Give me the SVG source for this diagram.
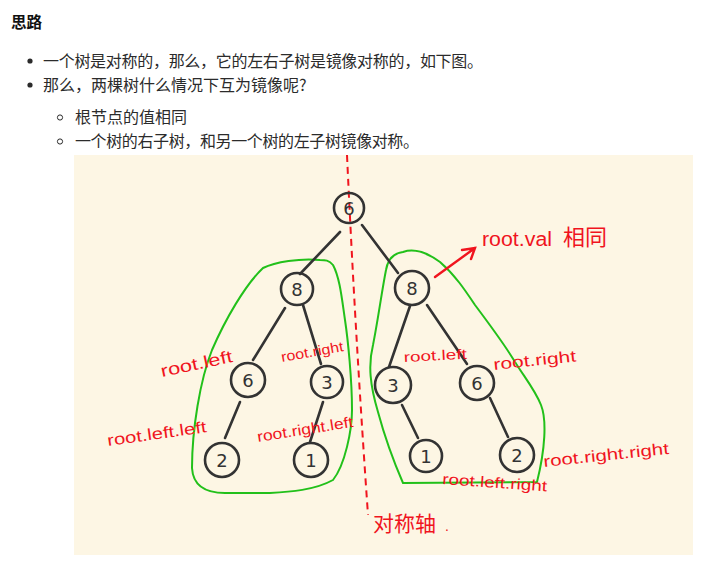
<svg xmlns="http://www.w3.org/2000/svg" width="713" height="577" viewBox="0 0 713 577">
<style>
.body{font-family:"Noto Sans CJK SC","Noto Sans",sans-serif;font-size:16px;fill:#2b2b2b}
.title{font-family:"Noto Sans CJK SC","Noto Sans",sans-serif;font-size:15.6px;font-weight:bold;fill:#111}
.ink{fill:none;stroke:#333;stroke-width:2.6;stroke-linecap:round;stroke-linejoin:round}
.num{font-family:"DejaVu Sans","Liberation Sans",sans-serif;font-size:18px;fill:#333;text-anchor:middle}
.hand{font-family:"Liberation Sans","Noto Sans CJK SC",sans-serif;fill:#f0141e}
.green{fill:none;stroke:#22c01a;stroke-width:2;stroke-linejoin:round}
.red{fill:none;stroke:#f0141e;stroke-width:2.4;stroke-linecap:round}
</style>
<rect width="713" height="577" fill="#ffffff"/>
<text class="title" x="11" y="28">思路</text>
<circle cx="30" cy="61" r="2.6" fill="#2b2b2b"/>
<text class="body" x="43" y="67" textLength="440" lengthAdjust="spacing">一个树是对称的，那么，它的左右子树是镜像对称的，如下图。</text>
<circle cx="30" cy="85" r="2.6" fill="#2b2b2b"/>
<text class="body" x="43" y="91">那么，两棵树什么情况下互为镜像呢?</text>
<circle cx="60" cy="117.5" r="2.6" fill="none" stroke="#2b2b2b" stroke-width="1"/>
<text class="body" x="75" y="123">根节点的值相同</text>
<circle cx="60" cy="141.5" r="2.6" fill="none" stroke="#2b2b2b" stroke-width="1"/>
<text class="body" x="75" y="147" textLength="344" lengthAdjust="spacing">一个树的右子树，和另一个树的左子树镜像对称。</text>

<rect x="74" y="155" width="619" height="400" fill="#fdf6e4"/>

<g id="subtrees">
<path class="green" d="M320,260 C300,258 275,262 263,268 C245,285 225,320 212,350 C200,380 192,430 192,468 C193,485 205,493 225,493 L270,493 C290,492 315,490 333,480 C345,465 352,430 352,410 C352,380 348,340 345,320 C342,300 340,278 333,265 C329,260 325,260 320,260 Z"/>
<path class="green" d="M403,252 C412,249 425,251 440,262 C455,275 465,290 475,305 C490,325 505,345 515,362 C525,378 535,390 541,405 C547,420 545,450 537,482 L403,483 C393,460 385,438 378,412 C370,385 368,365 373,345 C378,320 382,290 386,270 C388,258 395,253 403,252 Z"/>
</g>

<g id="connectors">
<path class="ink" d="M340,232 L300,274"/>
<path class="ink" d="M362,225 L398,273"/>
<path class="ink" d="M285,308 L253,360"/>
<path class="ink" d="M303,305 L321,364"/>
<path class="ink" d="M240,402 L225,438"/>
<path class="ink" d="M323,402 L310,442"/>
<path class="ink" d="M410,306 L389,367"/>
<path class="ink" d="M427,305 L467,364"/>
<path class="ink" d="M402,405 L418,438"/>
<path class="ink" d="M490,398 L508,437"/>
</g>

<g id="axis">
<path d="M347,155 Q355,330 368,515" fill="none" stroke="#f0141e" stroke-width="2" stroke-dasharray="7,5"/>
<text class="hand" x="373" y="531" font-size="21">对称轴</text>
<text class="hand" x="445" y="531" font-size="14">.</text>
</g>

<g id="node-root"><circle class="ink" cx="349" cy="208" r="15"/><text class="num" x="349" y="215">6</text></g>
<g id="node-l8"><circle class="ink" cx="297" cy="289" r="16"/><text class="num" x="297" y="296">8</text></g>
<g id="node-r8"><circle class="ink" cx="412" cy="288" r="17"/><text class="num" x="412" y="295">8</text></g>
<g id="node-l6"><circle class="ink" cx="248" cy="380" r="17"/><text class="num" x="248" y="387">6</text></g>
<g id="node-l3"><circle class="ink" cx="327" cy="382" r="16"/><text class="num" x="327" y="389">3</text></g>
<g id="node-l2"><circle class="ink" cx="222" cy="460" r="17"/><text class="num" x="222" y="467">2</text></g>
<g id="node-l1"><circle class="ink" cx="311" cy="460" r="17"/><text class="num" x="311" y="467">1</text></g>
<g id="node-r3"><circle class="ink" cx="393" cy="385" r="18"/><text class="num" x="393" y="392">3</text></g>
<g id="node-r6"><circle class="ink" cx="477" cy="383" r="17"/><text class="num" x="477" y="390">6</text></g>
<g id="node-r1"><circle class="ink" cx="426" cy="456" r="16"/><text class="num" x="426" y="463">1</text></g>
<g id="node-r2"><circle class="ink" cx="517" cy="455" r="17"/><text class="num" x="517" y="462">2</text></g>

<g id="labels">
<path class="red" d="M435,277 L475,248 M462,250 L475,248 L471,259"/>
<text class="hand" x="482" y="246" font-size="20" textLength="70" lengthAdjust="spacingAndGlyphs">root.val</text>
<text class="hand" x="563" y="245" font-size="22">相同</text>
<text class="hand" transform="translate(162,377) rotate(-12)" font-size="17" textLength="73" lengthAdjust="spacingAndGlyphs">root.left</text>
<text class="hand" transform="translate(282,362) rotate(-10)" font-size="14" textLength="63" lengthAdjust="spacingAndGlyphs">root.right</text>
<text class="hand" transform="translate(108,446) rotate(-8)" font-size="16" textLength="100" lengthAdjust="spacingAndGlyphs">root.left.left</text>
<text class="hand" transform="translate(258,442) rotate(-9)" font-size="15" textLength="97" lengthAdjust="spacingAndGlyphs">root.right.left</text>
<text class="hand" transform="translate(404,362) rotate(-3)" font-size="14" textLength="63" lengthAdjust="spacingAndGlyphs">root.left</text>
<text class="hand" transform="translate(494,370) rotate(-6)" font-size="16" textLength="83" lengthAdjust="spacingAndGlyphs">root.right</text>
<text class="hand" transform="translate(544,467) rotate(-6)" font-size="16" textLength="126" lengthAdjust="spacingAndGlyphs">root.right.right</text>
<text class="hand" transform="translate(442,484) rotate(4)" font-size="15" textLength="105" lengthAdjust="spacingAndGlyphs">root.left.right</text>
</g>
</svg>
